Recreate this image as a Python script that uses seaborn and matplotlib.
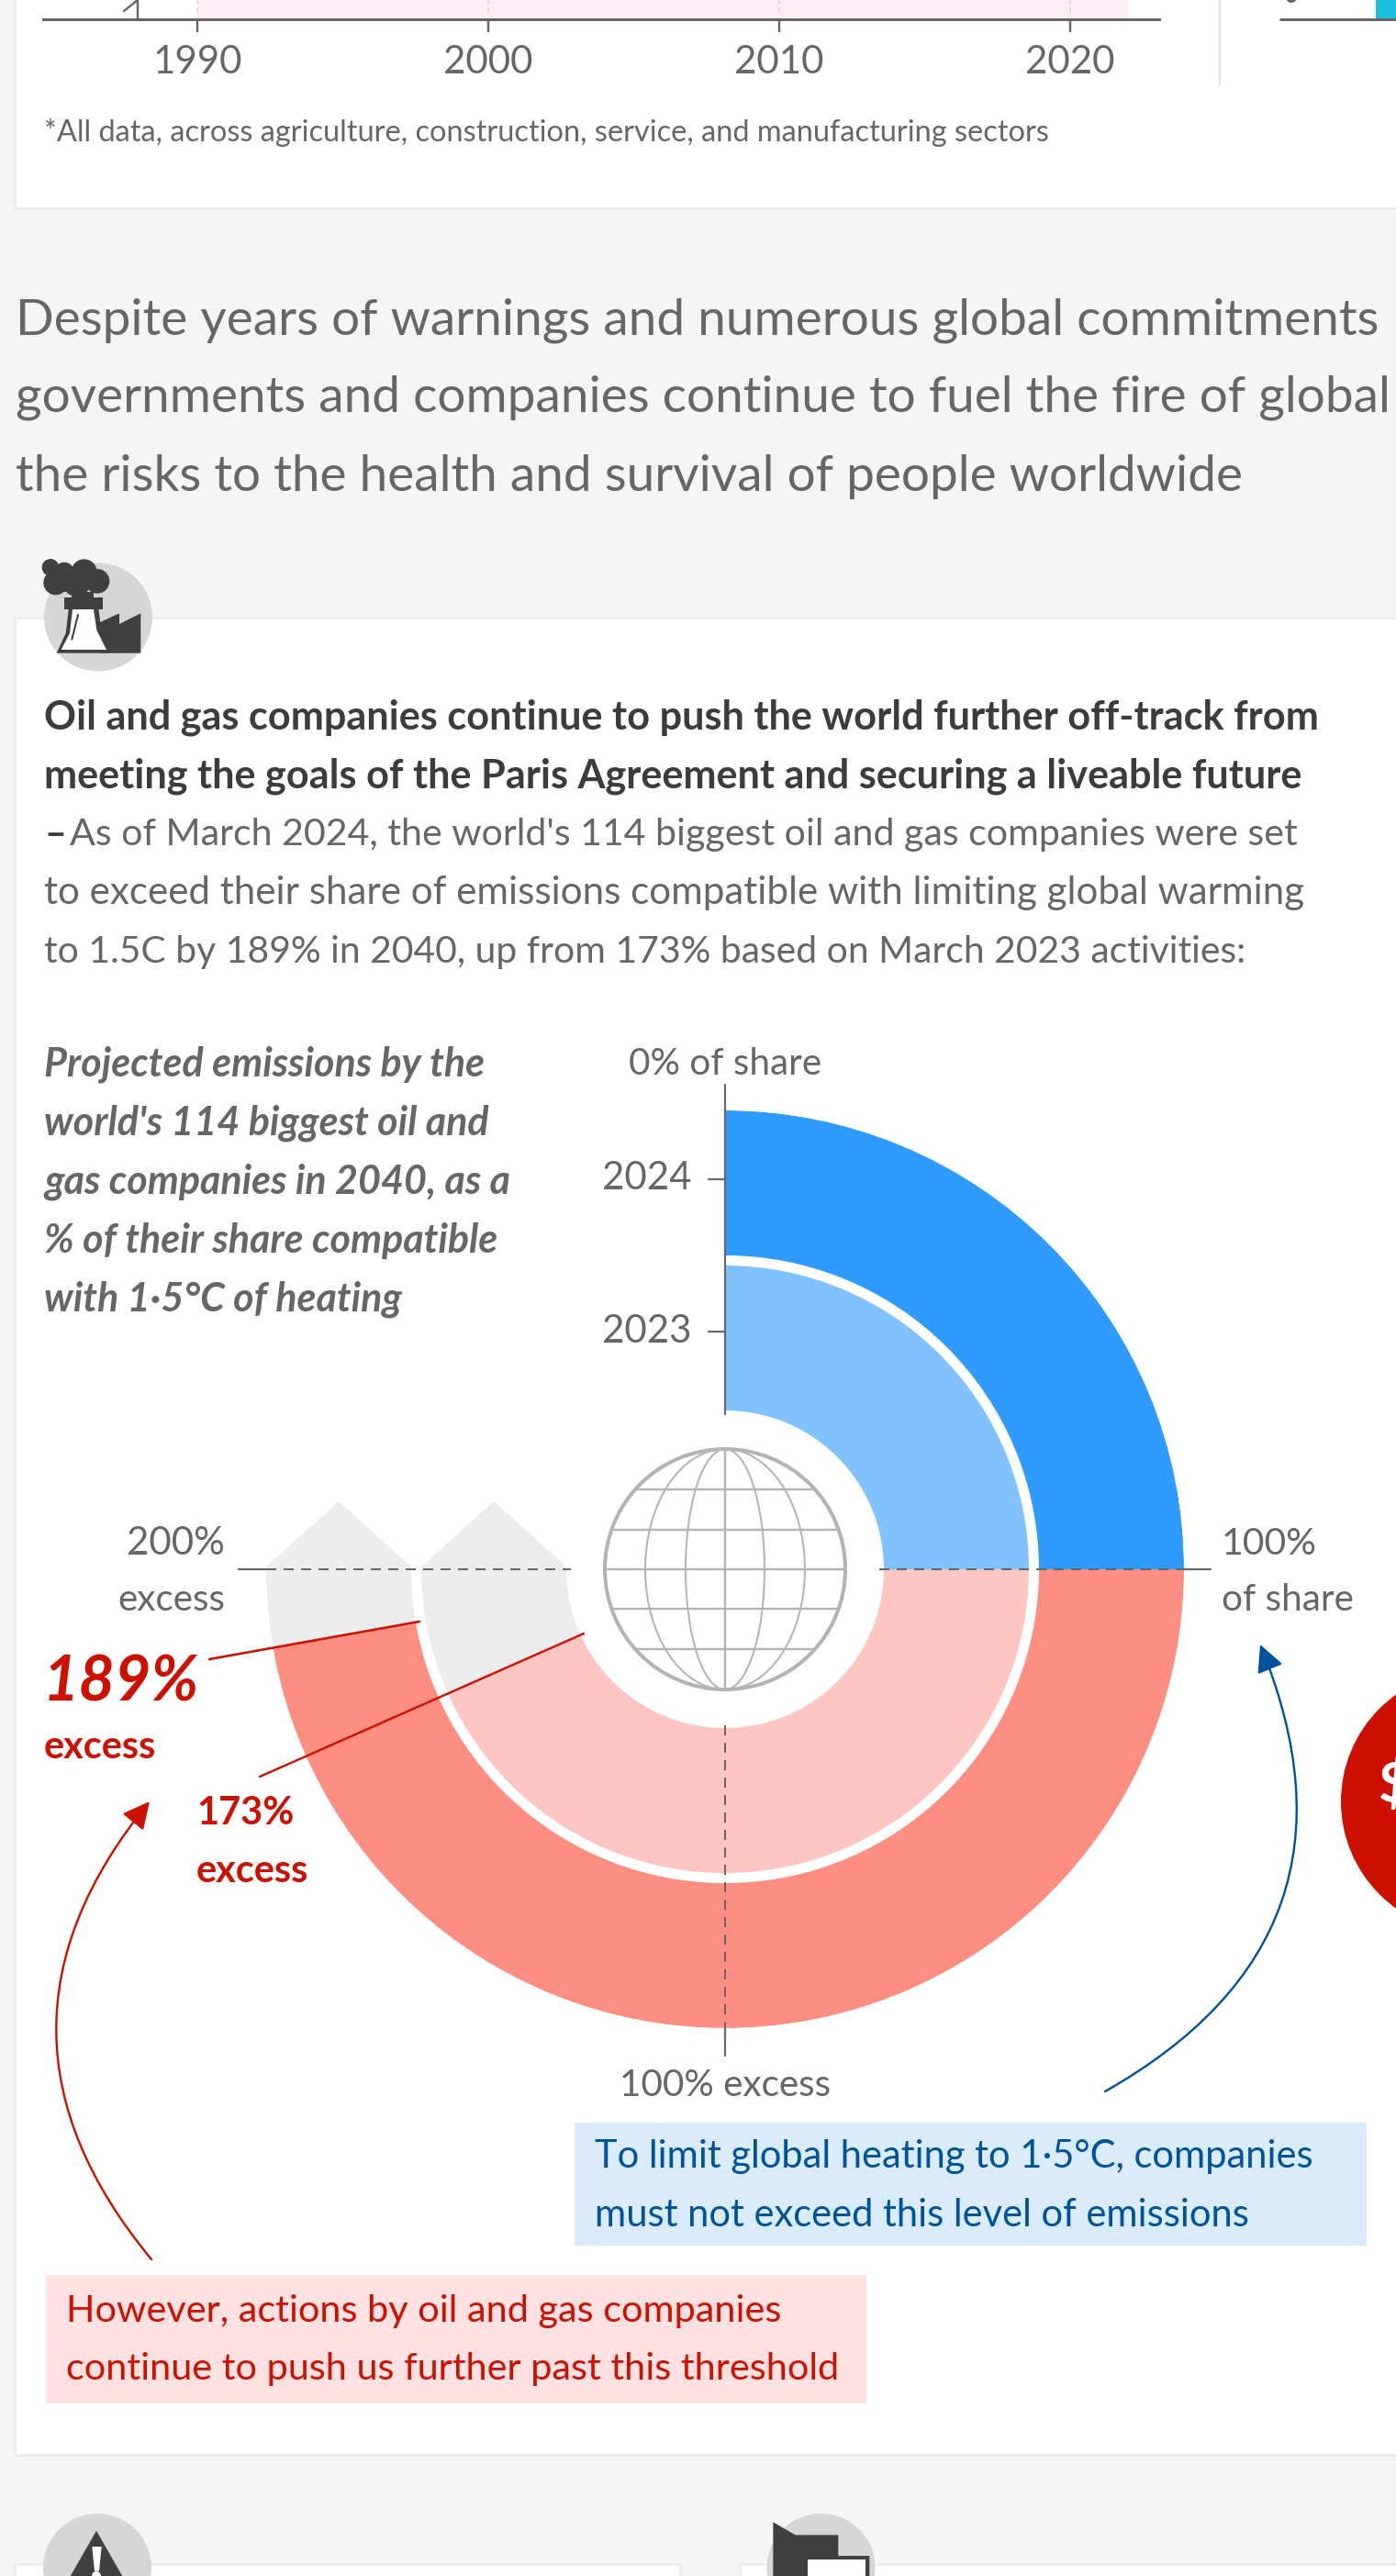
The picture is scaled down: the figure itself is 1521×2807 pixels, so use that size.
import numpy as np
import matplotlib
matplotlib.use("Agg")
import matplotlib.pyplot as plt
from matplotlib.patches import Rectangle, Circle, Ellipse, Polygon
import seaborn as sns

# ---------- data ----------
RING_YEARS = ["2024", "2023"]
SHARE_PCT = [100, 100]
EXCESS_PCT = [189, 173]
EXCESS_MAX = 200
AXIS_YEARS = [1990, 2000, 2010, 2020]
SPAN_YEARS = [1990, 2022]

BG = "#f5f5f5"; CARD_EDGE = "#ececec"; GREY = "#666666"
BLUE = ["#2f9bff", "#80c2ff"]; RED = ["#ff8e82", "#ffc6c1"]; REMAIN = "#ececec"
DRED = "#cc1100"; DBLUE = "#00539b"; ICON = "#404040"; ICONBG = "#d6d6d6"

W, H = 1521, 2807
sns.set_theme(style="white")
plt.rcParams["font.family"] = ["Lato", "DejaVu Sans"]
plt.rcParams["axes.unicode_minus"] = False

fig = plt.figure(figsize=(W / 100, H / 100), dpi=100, facecolor=BG)
PX = 0.72  # points per pixel


def page_axes(z):
    a = fig.add_axes([0, 0, 1, 1], zorder=z)
    a.set_xlim(0, W); a.set_ylim(H, 0); a.axis("off")
    a.patch.set_alpha(0)
    return a


bg = page_axes(0)
top = page_axes(3)


def T(x, y, s, px, color=GREY, ha="left", weight="normal", style="normal", ax=None):
    (ax or top).text(x, y, s, fontsize=px * PX, color=color, ha=ha, va="baseline",
                     fontweight=weight, fontstyle=style, clip_on=False)


def card(x0, y0, x1, y1):
    bg.add_patch(Rectangle((x0, y0), x1 - x0, y1 - y0, fc="white", ec=CARD_EDGE, lw=3 * PX))


card(16, -20, 1560, 227)
card(16, 673, 1560, 2675)
card(16, 2794, 741, 2860)
card(806, 2794, 1560, 2860)

# ---------- strip of the chart above ----------
L, R = 47.5, 1263
px_per_year = (1166 - 215) / 30
sax = fig.add_axes([L / W, 1 - 21 / H, (R - L) / W, 21 / H], zorder=1)
sax.patch.set_alpha(0)
sax.set_xlim(1990 + (L - 215) / px_per_year, 1990 + (R - 215) / px_per_year)
sax.set_ylim(0, 1)
sax.axvspan(SPAN_YEARS[0], SPAN_YEARS[1], color="#fdeef5", lw=0)
for y in AXIS_YEARS:
    sax.axvline(y, ymin=0.35, color="#dddddd", lw=2 * PX, ls=(0, (3, 2)))
sax.set_yticks([])
sax.set_xticks(AXIS_YEARS)
sax.set_xticklabels([])
sax.tick_params(axis="x", bottom=True, length=14 * PX, width=2.4 * PX, color=GREY, pad=0)
sns.despine(ax=sax, left=True)
sax.spines["bottom"].set_color(GREY)
sax.spines["bottom"].set_linewidth(3 * PX)
for y in AXIS_YEARS:
    T(215 + (y - 1990) * px_per_year, 80, str(y), 42, ha="center")
top.plot([150, 150, 135], [21, 0, 12], color=GREY, lw=2.4 * PX)
bg.plot([1329, 1329], [0, 92], color="#e0e0e0", lw=2.5 * PX)
bg.plot([1395, 1521], [21, 21], color=GREY, lw=3 * PX)
bg.add_patch(Rectangle((1499, -2), 30, 22, fc="#1bbcdc", ec="none"))
bg.add_patch(Circle((1407, -3), 6, fc=GREY, ec="none"))

T(48, 154, "*All data, across agriculture, construction, service, and manufacturing sectors", 32.5)

# ---------- heading ----------
T(17, 364, "Despite years of warnings and numerous global commitments", 55)
T(17, 449, "governments and companies continue to fuel the fire of global", 55)
T(17, 535, "the risks to the health and survival of people worldwide", 55)

# ---------- intro text ----------
BOLDC = "#3c3c3c"
T(48, 795, "Oil and gas companies continue to push the world further off-track from", 43.3, color=BOLDC, weight="bold")
T(48, 858, "meeting the goals of the Paris Agreement and securing a liveable future", 43.3, color=BOLDC, weight="bold")
T(48, 921, "–", 41, color=BOLDC, weight="bold")
T(76, 921, "As of March 2024, the world's 114 biggest oil and gas companies were set", 41.1)
T(48, 985, "to exceed their share of emissions compatible with limiting global warming", 42.1)
T(48, 1049, "to 1.5C by 189% in 2040, up from 173% based on March 2023 activities:", 40.9)

for yy, s in zip([1173, 1237, 1301, 1365, 1429],
                 ["Projected emissions by the", "world's 114 biggest oil and",
                  "gas companies in 2040, as a", "% of their share compatible",
                  "with 1·5°C of heating"]):
    T(48, yy, s, 43, weight="bold", style="italic")

# ---------- rings ----------
CX, CY = 790, 1710
RINGS = [(342, 500), (173, 331)]
pax = fig.add_axes([(CX - 500) / W, 1 - (CY + 500) / H, 1000 / W, 1000 / H],
                   projection="polar", zorder=1)
pax.set_theta_zero_location("N"); pax.set_theta_direction(-1)
pax.patch.set_alpha(0)


def share_theta(p):
    return np.deg2rad(p * 90 / 100)


def excess_theta(p):
    return np.deg2rad(90 + p * 180 / EXCESS_MAX)


def wedge(t0, t1, r0, r1, c):
    sns.barplot(x=[(t0 + t1) / 2], y=[r1 - r0], width=t1 - t0, bottom=r0, native_scale=True,
                color=c, saturation=1, linewidth=0, ax=pax, errorbar=None)


for i, (r0, r1) in enumerate(RINGS):
    wedge(share_theta(0), share_theta(SHARE_PCT[i]), r0, r1, BLUE[i])
    wedge(excess_theta(0), excess_theta(EXCESS_PCT[i]), r0, r1, RED[i])
    wedge(excess_theta(EXCESS_PCT[i]), excess_theta(EXCESS_MAX), r0, r1, REMAIN)
pax.set_xlim(0, 2 * np.pi)
pax.set_ylim(0, 500)
pax.axis("off")

# grey "house" tips above the 200% line
for r0, r1 in RINGS:
    xa, xb = CX - r1, CX - r0
    bg.add_patch(Polygon([(xa, CY), (xa, CY - 3), ((xa + xb) / 2, CY - 74), (xb, CY - 3), (xb, CY)],
                         fc=REMAIN, ec="none"))

# axis lines
top.plot([CX, CX], [1182, 1541], color=GREY, lw=2.2 * PX)
for yy, lab, b in zip([1285, 1451], RING_YEARS, [1296, 1463]):
    top.plot([772, CX], [yy, yy], color=GREY, lw=2.2 * PX)
    T(753, b, lab, 42, ha="right")
T(CX, 1171, "0% of share", 40.5, ha="center")
dash = (0, (5.5, 4))
top.plot([290, 622], [CY, CY], color=GREY, lw=2 * PX, ls=dash)
top.plot([260, 290], [CY, CY], color=GREY, lw=2.2 * PX)
top.plot([958, 1290], [CY, CY], color=GREY, lw=2 * PX, ls=dash)
top.plot([1290, 1319], [CY, CY], color=GREY, lw=2.2 * PX)
top.plot([CX, CX], [1880, 2210], color=GREY, lw=2 * PX, ls=dash)
top.plot([CX, CX], [2210, 2240], color=GREY, lw=2.2 * PX)
T(245, 1694, "200%", 42, ha="right")
T(245, 1755, "excess", 40.5, ha="right")
T(1331, 1694, "100%", 41)
T(1331, 1755, "of share", 40.5)
T(CX, 2284, "100% excess", 40.5, ha="center")

# globe
GR = 131
gc = "#b3b3b3"
top.add_patch(Circle((CX, CY), GR, fc="white", ec=gc, lw=4 * PX))
for a in (87, 43):
    top.add_patch(Ellipse((CX, CY), 2 * a, 2 * GR, fc="none", ec=gc, lw=2 * PX))
top.plot([CX, CX], [CY - GR, CY + GR], color=gc, lw=2.4 * PX)
for dy in (-87, -43, 0, 43, 87):
    hw = np.sqrt(GR ** 2 - dy ** 2)
    top.plot([CX - hw, CX + hw], [CY + dy, CY + dy], color=gc, lw=2.4 * PX, solid_capstyle="butt")

# red labels and leaders
T(47, 1854, "189%", 68, color=DRED, weight="bold", style="italic")
T(48, 1916, "excess", 41.5, color=DRED, weight="bold")
T(214, 1988, "173%", 41.5, color=DRED, weight="bold")
T(214, 2051, "excess", 41.5, color=DRED, weight="bold")
top.plot([228, 457], [1808, 1767], color=DRED, lw=2.6 * PX)
top.plot([283, 636], [1936, 1780], color=DRED, lw=2.4 * PX)

# red / blue call-outs
bg.add_patch(Rectangle((626, 2313), 863, 134, fc="#d9ebfd", ec="none"))
bg.add_patch(Rectangle((50, 2479), 894, 140, fc="#fee1e0", ec="none"))
T(648, 2362, "To limit global heating to 1·5°C, companies", 41.6, color=DBLUE)
T(648, 2426, "must not exceed this level of emissions", 41.6, color=DBLUE)
T(72, 2530, "However, actions by oil and gas companies", 41.4, color=DRED)
T(72, 2593, "continue to push us further past this threshold", 41.4, color=DRED)


def curve(start, tip, rad, c):
    top.annotate("", xy=tip, xytext=start,
                 arrowprops=dict(arrowstyle="-|>,head_length=0.9,head_width=0.45",
                                 connectionstyle=f"arc3,rad={rad}", color=c, lw=2.4 * PX,
                                 shrinkA=0, shrinkB=0, mutation_scale=20))


curve((165, 2462), (163, 1963), -0.41, DRED)
curve((1204, 2279), (1373, 1792), 0.44, DBLUE)

# coin at the right edge
top.add_patch(Circle((1604, 1963), 143, fc=DRED, ec="none"))
T(1502, 1964, "$", 62, color="white", weight="bold")


# ---------- icons ----------
def poly(pts, ox, oy, c, k=3.0):
    top.add_patch(Polygon([(ox + x / k, oy + y / k) for x, y in pts], fc=c, ec="none"))


top.add_patch(Circle((107, 672.5), 59, fc=ICONBG, ec="none"))
ox, oy = 20, 590
for x, y, r in [(105, 85, 28), (150, 100, 32), (215, 100, 42), (258, 130, 40),
                (122, 135, 40), (190, 135, 45), (150, 125, 40)]:
    top.add_patch(Circle((ox + x / 3, oy + y / 3), r / 3, fc=ICON, ec="none"))
poly([(175, 165), (245, 165), (245, 190), (175, 190)], ox, oy, ICON)
poly([(150, 183), (275, 183), (275, 222), (150, 222)], ox, oy, ICON)
poly([(265, 265), (330, 235), (330, 270), (400, 235), (400, 365), (270, 365)], ox, oy, ICON)
poly([(165, 215), (262, 215), (270, 285), (300, 365), (125, 365), (155, 300)], ox, oy, ICON)
poly([(177, 222), (246, 222), (256, 290), (288, 354), (140, 354), (168, 300)], ox, oy, "white")
top.plot([ox + 195 / 3, ox + 175 / 3], [oy + 240 / 3, oy + 320 / 3], color=ICON, lw=2 * PX)

top.add_patch(Circle((106, 2798), 59, fc=ICONBG, ec="none"))
poly([(255, 113), (345, 270), (165, 270)], 20, 2720, ICON)
poly([(241, 165), (272, 165), (264, 245), (249, 245)], 20, 2720, "white")
top.add_patch(Circle((105, 2807), 5, fc="white", ec="none"))

top.add_patch(Circle((894.5, 2798), 59, fc=ICONBG, ec="none"))
poly([(97, 85), (170, 127), (310, 127), (310, 195), (412, 195), (412, 270), (97, 270)], 810, 2720, ICON)
poly([(210, 207), (400, 207), (400, 270), (210, 270)], 810, 2720, "white")

fig.savefig("out.png", dpi=100, facecolor=BG)
